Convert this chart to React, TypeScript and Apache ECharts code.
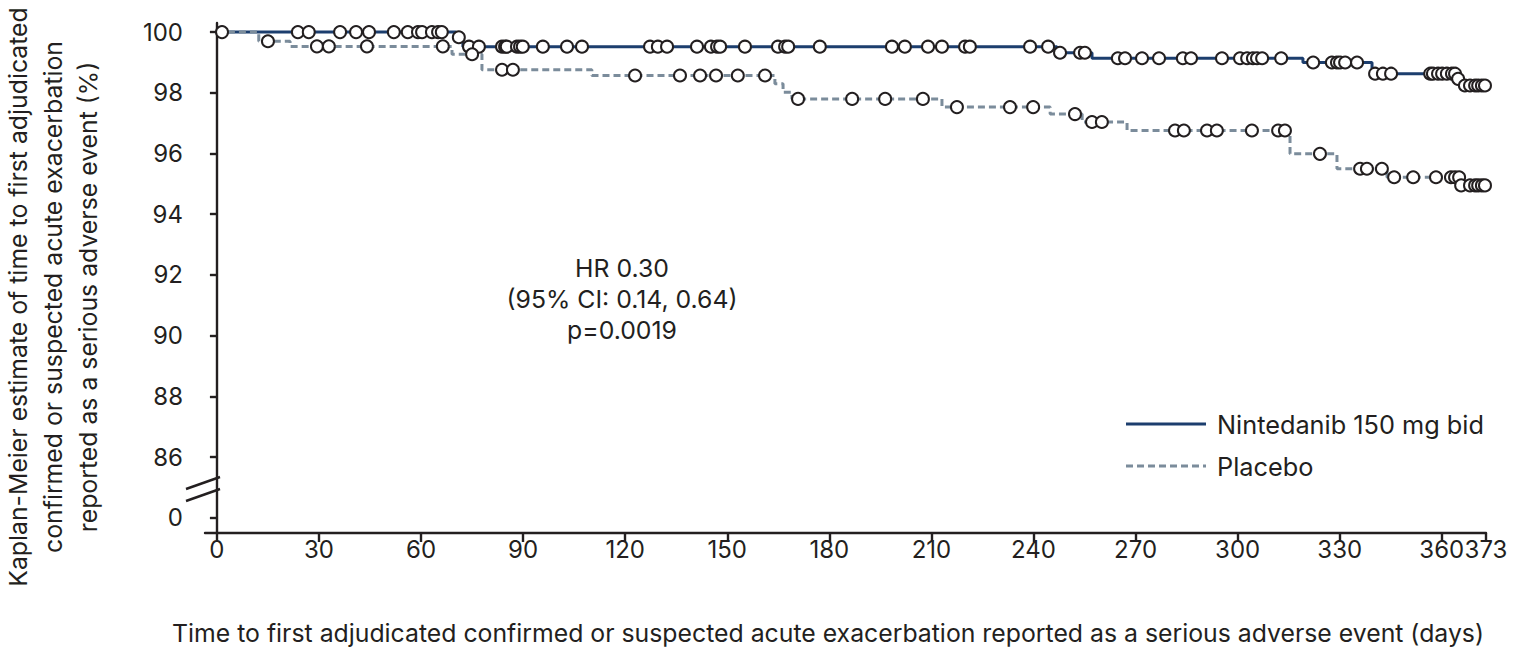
import { useEffect, useRef } from 'react';
import * as echarts from 'echarts';

// ---- Data ----
const xTickValues = [0, 30, 60, 90, 120, 150, 180, 210, 240, 270, 300, 330, 360, 373];
const yTickValues = [84, 86, 88, 90, 92, 94, 96, 98, 100];
const yTickLabels = ['0', '86', '88', '90', '92', '94', '96', '98', '100'];

const followUpEnd = 373;

// Nintedanib 150 mg bid: KM step times (days) and survival estimate (%)
const nintStepDays = [0, 70.3, 72.3, 246.9, 257.2, 319.2, 339.5, 364.5, 365.7];
const nintStepSurv = [100, 99.83, 99.52, 99.32, 99.14, 99.0, 98.63, 98.46, 98.24];
const nintCensorDays = [
  1.5, 23.8, 27.0, 36.2, 40.9, 44.7, 52.0, 56.1, 59.1, 60.3, 63.2, 65.0, 66.1,
  71.1, 74.1, 77.0, 83.8, 84.7, 85.2, 88.2, 89.1, 89.9, 95.8, 102.9, 107.3,
  127.3, 129.6, 132.3, 141.1, 145.2, 147.0, 147.9, 155.2, 164.9, 167.0, 167.9, 177.2,
  198.4, 202.2, 209.0, 213.1, 219.9, 221.3, 239.0, 244.3,
  247.8, 253.7, 255.1,
  264.8, 266.9, 271.9, 276.9, 283.9, 286.3, 295.4, 300.7, 302.8, 304.5, 305.7, 307.2, 312.8,
  322.2, 327.7, 329.2, 330.1, 331.6, 335.1,
  340.4, 342.7, 345.1, 356.6, 357.4, 358.9, 360.1, 361.5, 363.0, 363.9,
  364.8, 366.8, 368.3, 369.8, 370.7, 371.8, 372.7,
];

// Placebo
const placeboStepDays = [0, 12.3, 21.5, 69.1, 77.9, 110.2, 164.0, 166.4, 169.0, 213.1, 244.9, 254.3, 267.5, 315.4, 329.2, 343.9, 365.4];
const placeboStepSurv = [100, 99.7, 99.53, 99.27, 98.76, 98.57, 98.3, 98.02, 97.8, 97.53, 97.3, 97.04, 96.76, 95.99, 95.5, 95.22, 94.95];
const placeboCensorDays = [
  15.0, 29.4, 32.9, 44.1, 66.4, 75.0, 83.8, 87.0,
  122.9, 136.1, 142.0, 146.7, 153.1, 161.1,
  170.8, 186.7, 196.4, 207.5, 217.5, 233.1, 239.9, 252.2, 257.2, 260.1,
  281.6, 284.2, 291.0, 293.9, 304.2, 311.9, 313.9, 324.2, 336.0, 338.0, 342.4,
  346.0, 351.6, 358.3, 362.7, 363.9, 365.1,
  365.7, 368.3, 369.8, 370.7, 371.8, 372.7,
];

const seriesNames = ['Nintedanib 150 mg bid', 'Placebo'];
const annotationLines = ['HR 0.30', '(95% CI: 0.14, 0.64)', 'p=0.0019'];
const yAxisTitle = [
  'Kaplan-Meier estimate of time to first adjudicated',
  'confirmed or suspected acute exacerbation',
  'reported as a serious adverse event (%)',
];
const xAxisTitle =
  'Time to first adjudicated confirmed or suspected acute exacerbation reported as a serious adverse event (days)';

// ---- helpers ----
function stepLine(days: number[], surv: number[]) {
  const pts = days.map((d, i) => [d, surv[i]]);
  pts.push([followUpEnd, surv[surv.length - 1]]);
  return pts;
}
function survAt(days: number[], surv: number[], t: number) {
  let v = surv[0];
  for (let i = 0; i < days.length; i++) if (days[i] <= t) v = surv[i];
  return v;
}
function censorPoints(cd: number[], days: number[], surv: number[]) {
  return cd.map((t) => [t, survAt(days, surv, t)]);
}

const FONT = 'Inter, "DejaVu Sans", sans-serif';
const FS = 24;
const FS_TITLE = 24.8;
const FS_LEGEND = 25.3;
const INK = '#231f20';
const NAVY = '#1c3e6e';
const GREY = '#7b8c9b';
const PLACEBO_DASH = [7, 4];

export default function App() {
  const ref = useRef<HTMLDivElement>(null);
  useEffect(() => {
    if (!ref.current) return;
    const chart = echarts.init(ref.current, undefined, { renderer: 'svg' });
    const censorStyle = {
      color: '#ffffff',
      borderColor: INK,
      borderWidth: 2,
      opacity: 1,
    };
    const legendX = 1126;
    const legendRows = [424, 466];
    chart.setOption({
      animation: false,
      textStyle: { fontFamily: FONT },
      grid: { left: 205, right: 43, top: 23, bottom: 115, containLabel: false },
      xAxis: {
        type: 'value',
        min: -3.5,
        max: followUpEnd,
        axisLine: { lineStyle: { color: INK, width: 2.4 } },
        axisTick: { customValues: xTickValues, length: 9, lineStyle: { color: INK, width: 2.4 } },
        axisLabel: {
          customValues: xTickValues,
          color: INK,
          fontSize: FS,
          margin: 4,
          fontFamily: FONT,
        },
        splitLine: { show: false },
      },
      yAxis: {
        type: 'value',
        min: 83.5,
        max: 100.3,
        axisLine: { show: true, lineStyle: { color: INK, width: 2.4 } },
        axisTick: { show: true, customValues: yTickValues, length: 7, lineStyle: { color: INK, width: 2.4 } },
        axisLabel: {
          customValues: yTickValues,
          color: INK,
          fontSize: FS,
          margin: 22,
          fontFamily: FONT,
          formatter: (v: number) => {
            const i = yTickValues.indexOf(Math.round(v));
            return i >= 0 ? yTickLabels[i] : '';
          },
        },
        splitLine: { show: false },
      },
      series: [
        {
          name: seriesNames[0],
          type: 'line',
          step: 'end',
          symbol: 'none',
          data: stepLine(nintStepDays, nintStepSurv),
          lineStyle: { color: NAVY, width: 3 },
          itemStyle: { color: NAVY },
          z: 2,
        },
        {
          name: seriesNames[1],
          type: 'line',
          step: 'end',
          symbol: 'none',
          data: stepLine(placeboStepDays, placeboStepSurv),
          lineStyle: { color: GREY, width: 3, type: PLACEBO_DASH },
          itemStyle: { color: GREY },
          z: 3,
        },
        {
          name: 'Nintedanib censored',
          type: 'scatter',
          symbol: 'circle',
          symbolSize: 12,
          data: censorPoints(nintCensorDays, nintStepDays, nintStepSurv),
          itemStyle: censorStyle,
          z: 4,
        },
        {
          name: 'Placebo censored',
          type: 'scatter',
          symbol: 'circle',
          symbolSize: 12,
          data: censorPoints(placeboCensorDays, placeboStepDays, placeboStepSurv),
          itemStyle: censorStyle,
          z: 4,
        },
      ],
      graphic: [
        {
          type: 'text',
          x: 622,
          y: 299,
          style: {
            text: annotationLines.join('\n'),
            fill: INK,
            font: `${FS_TITLE}px ${FONT}`,
            lineHeight: 31,
            align: 'center',
            verticalAlign: 'middle',
          },
          z: 10,
        },
        {
          type: 'text',
          x: 53,
          y: 297,
          rotation: Math.PI / 2,
          style: {
            text: yAxisTitle.join('\n'),
            fill: INK,
            font: `${FS_TITLE}px ${FONT}`,
            lineHeight: 35,
            align: 'center',
            verticalAlign: 'middle',
          },
          z: 10,
        },
        {
          type: 'text',
          x: 828,
          y: 633,
          style: {
            text: xAxisTitle,
            fill: INK,
            font: `${FS_TITLE}px ${FONT}`,
            align: 'center',
            verticalAlign: 'middle',
          },
          z: 10,
        },
        // legend
        {
          type: 'line',
          shape: { x1: legendX, y1: legendRows[0], x2: legendX + 80, y2: legendRows[0] },
          style: { stroke: NAVY, lineWidth: 3 },
          z: 10,
        },
        {
          type: 'text',
          x: legendX + 91,
          y: legendRows[0],
          style: { text: seriesNames[0], fill: INK, font: `${FS_LEGEND}px ${FONT}`, verticalAlign: 'middle' },
          z: 10,
        },
        {
          type: 'line',
          shape: { x1: legendX, y1: legendRows[1], x2: legendX + 80, y2: legendRows[1] },
          style: { stroke: GREY, lineWidth: 3, lineDash: PLACEBO_DASH },
          z: 10,
        },
        {
          type: 'text',
          x: legendX + 91,
          y: legendRows[1],
          style: { text: seriesNames[1], fill: INK, font: `${FS_LEGEND}px ${FONT}`, verticalAlign: 'middle' },
          z: 10,
        },
        // axis break
        {
          type: 'rect',
          shape: { x: 199, y: 483, width: 12, height: 12 },
          style: { fill: '#ffffff' },
          z: 10,
        },
        {
          type: 'line',
          shape: { x1: 186, y1: 489, x2: 220, y2: 477 },
          style: { stroke: INK, lineWidth: 2.4 },
          z: 11,
        },
        {
          type: 'line',
          shape: { x1: 186, y1: 501, x2: 220, y2: 489 },
          style: { stroke: INK, lineWidth: 2.4 },
          z: 11,
        },
      ],
    });
    return () => chart.dispose();
  }, []);
  return <div ref={ref} style={{ width: 1529, height: 648, position: 'absolute', left: 0, top: 0 }} />;
}
